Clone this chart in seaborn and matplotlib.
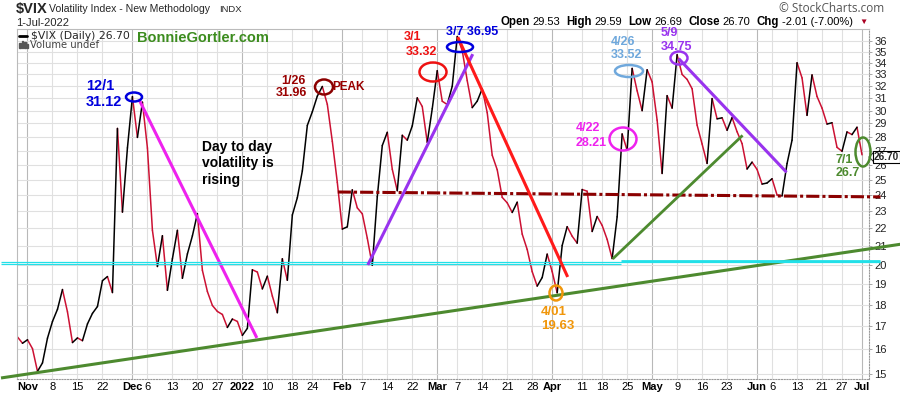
import numpy as np
import pandas as pd
import matplotlib
matplotlib.use("Agg")
import matplotlib.pyplot as plt
import seaborn as sns
from matplotlib.patches import Ellipse, Rectangle
from matplotlib.lines import Line2D
from matplotlib.transforms import Affine2D
from matplotlib.ticker import FixedLocator, FixedFormatter, NullLocator

# ---------------- data ----------------
holidays = ["2021-11-25", "2021-12-24", "2022-01-17", "2022-02-21",
            "2022-04-15", "2022-05-30", "2022-06-20"]
dates = pd.bdate_range("2021-10-28", "2022-07-01", freq="C", holidays=holidays)

vix_oct = [16.53, 16.26]
vix_nov = [16.41, 16.03, 15.10, 15.44, 16.48, 17.22, 17.78, 18.73, 17.66, 16.29,
           16.49, 16.37, 17.11, 17.59, 17.91, 19.17, 19.38, 18.58, 28.62, 22.96, 27.19]
vix_dec = [31.12, 27.95, 30.67, 27.18, 21.89, 19.90, 21.58, 18.69, 20.31, 21.89,
           19.29, 20.57, 21.57, 22.87, 19.70, 18.63, 17.96, 17.68, 17.54, 16.95, 17.33, 17.22]
vix_jan = [16.60, 16.91, 19.73, 19.61, 18.76, 19.40, 18.41, 17.62, 20.31, 19.19,
           22.79, 23.85, 25.59, 28.85, 29.90, 31.16, 31.96, 30.49, 27.66, 24.83]
vix_feb = [21.96, 22.09, 24.35, 23.22, 22.86, 21.44, 19.96, 23.91, 27.36, 28.33,
           25.70, 24.29, 28.11, 27.75, 28.81, 31.02, 30.32, 27.59, 30.15]
vix_mar = [33.32, 30.74, 30.48, 31.98, 36.45, 35.13, 32.45, 30.23, 30.75, 31.77,
           29.83, 26.67, 25.67, 23.87, 23.53, 22.94, 23.57, 21.67, 20.81, 19.63,
           18.90, 19.33, 20.56]
vix_apr = [19.63, 18.57, 21.03, 22.10, 21.55, 21.16, 24.37, 24.26, 21.82, 22.70,
           22.17, 21.37, 20.32, 22.68, 28.21, 27.02, 33.52, 31.60, 29.99, 33.40]
vix_may = [32.34, 29.25, 25.42, 31.20, 30.19, 34.75, 32.99, 32.56, 31.77, 28.87,
           27.47, 26.10, 30.96, 29.35, 29.43, 28.48, 29.45, 28.37, 27.50, 25.72, 26.19]
vix_jun = [25.69, 24.72, 24.79, 25.07, 24.02, 23.96, 26.09, 27.75, 34.02, 32.69,
           29.62, 32.95, 31.13, 30.19, 28.95, 29.05, 27.23, 26.95, 28.36, 28.16, 28.71]
vix_jul = [26.70]
vix_close = vix_oct + vix_nov + vix_dec + vix_jan + vix_feb + vix_mar + vix_apr + vix_may + vix_jun + vix_jul

tick_dates = ["2021-11-01", "2021-11-08", "2021-11-15", "2021-11-22", "2021-12-01",
              "2021-12-06", "2021-12-13", "2021-12-20", "2021-12-27", "2022-01-03",
              "2022-01-10", "2022-01-18", "2022-01-24", "2022-02-01", "2022-02-07",
              "2022-02-14", "2022-02-22", "2022-03-01", "2022-03-07", "2022-03-14",
              "2022-03-21", "2022-03-28", "2022-04-01", "2022-04-11", "2022-04-18",
              "2022-04-25", "2022-05-02", "2022-05-09", "2022-05-16", "2022-05-23",
              "2022-06-01", "2022-06-06", "2022-06-13", "2022-06-21", "2022-06-27",
              "2022-07-01"]
tick_labels = ["Nov", "8", "15", "22", "Dec", "6", "13", "20", "27", "2022", "10", "18",
               "24", "Feb", "7", "14", "22", "Mar", "7", "14", "21", "28", "Apr", "11",
               "18", "25", "May", "9", "16", "23", "Jun", "6", "13", "21", "27", "Jul"]
month_labels = {"Nov", "Dec", "2022", "Feb", "Mar", "Apr", "May", "Jun", "Jul"}
y_ticks = list(range(15, 37))

# ---------------- figure ----------------
W, H = 900, 396
sns.set_theme(style="white")
plt.rcParams["font.family"] = ["Liberation Sans", "DejaVu Sans"]

fig = plt.figure(figsize=(9, 3.96), dpi=100)
fig.patch.set_facecolor("white")
ax = fig.add_axes([17 / W, 1 - 379 / H, (869 - 17) / W, (379 - 29) / H])
ax.set_facecolor("white")
PX = Affine2D().scale(1, -1).translate(0, H)   # pixel coords, origin top-left

x_idx = np.arange(len(dates))
rows = []
for i in range(1, len(vix_close)):
    d = "up" if vix_close[i] >= vix_close[i - 1] else "down"
    rows.append((i, x_idx[i - 1], vix_close[i - 1], d))
    rows.append((i, x_idx[i], vix_close[i], d))
seg = pd.DataFrame(rows, columns=["seg", "x", "close", "dir"])
sns.lineplot(data=seg, x="x", y="close", hue="dir", units="seg", estimator=None,
             palette={"up": "black", "down": "#cc1133"}, legend=False, lw=1.1,
             ax=ax, zorder=2)
ax.set_yscale("log")
ax.set_ylim(14.8, 37.18)
ax.set_xlim(-0.1, 170.4)
ax.set_xlabel("")
ax.set_ylabel("")

# grid
tick_idx = [dates.get_loc(pd.Timestamp(d)) for d in tick_dates]
for t, lab in zip(tick_idx, tick_labels):
    ax.axvline(t, color="#b8b8b8" if lab in month_labels else "#e0e0e0", lw=0.8, zorder=0)
for v in y_ticks:
    ax.axhline(v, color="#e0e0e0", lw=0.8, zorder=0)

ax.set_xticks(tick_idx)
ax.set_xticklabels(tick_labels)
for lab in ax.get_xticklabels():
    if lab.get_text() in month_labels:
        lab.set_fontweight("bold")
ax.tick_params(axis="x", length=0, pad=2.5, labelsize=8, labelcolor="black")
ax.yaxis.tick_right()
ax.yaxis.set_major_locator(FixedLocator(y_ticks))
ax.yaxis.set_major_formatter(FixedFormatter([str(v) for v in y_ticks]))
ax.yaxis.set_minor_locator(NullLocator())
ax.tick_params(axis="y", which="major", right=True, left=False, length=2.5, width=0.6,
               color="#999999", pad=1.5, labelsize=8, labelcolor="#222222")
for s in ["top", "left"]:
    ax.spines[s].set_color("#bbbbbb")
    ax.spines[s].set_linewidth(0.8)
for s in ["right", "bottom"]:
    ax.spines[s].set_color("#999999")
    ax.spines[s].set_linewidth(0.8)
    ax.spines[s].set_linestyle((0, (1, 1.5)))

# ---------------- trend lines (date index, value) ----------------
trend_lines = [
    (24.3, 30.9, 47.9, 16.49, "#ee22ee", 2.2, "-", True),
    (-3.3, 14.84, 176.7, 21.1, "#4d8a2f", 2.2, "-", False),
    (-3.3, 20.16, 172.7, 20.16, "#22e0e8", 0.9, "-", False),
    (-3.3, 20.03, 120.7, 20.03, "#22e0e8", 0.9, "-", False),
    (120.7, 20.21, 172.7, 20.21, "#22e0e8", 2.0, "-", False),
    (64.1, 24.21, 172.7, 23.9, "#8b0000", 2.2, (0, (4.3, 1, 1, 1)), False),
    (70.1, 19.98, 91.1, 34.8, "#9933ee", 2.2, "-", True),
    (88.1, 36.4, 110.1, 19.36, "#ff1a1a", 2.2, "-", True),
    (119.1, 20.3, 145.1, 28.1, "#4d8a2f", 2.0, "-", True),
    (132.3, 34.4, 153.9, 25.5, "#9933ee", 2.2, "-", True),
]
for x0, v0, x1, v1, c, lw, ls, clip in trend_lines:
    ax.plot([x0, x1], [v0, v1], color=c, lw=lw, ls=ls, zorder=3, clip_on=clip,
            solid_capstyle="butt")

# ---------------- ellipses (pixel) ----------------
ellipses = [
    (134, 97, 16, 9, "#0000dd"),
    (324, 87, 18, 15, "#8b0000"),
    (433, 72, 27, 19, "#ee1111"),
    (460, 47, 26, 10, "#0000dd"),
    (556, 293, 13, 15, "#f0960a"),
    (623, 139, 27, 23, "#ee22ee"),
    (629, 71, 28, 12, "#6fa8dc"),
    (679, 58, 17, 13, "#9933ee"),
    (863, 152, 15, 29, "#4d8a2f"),
]
for cx, cy, w, h, c in ellipses:
    fig.add_artist(Ellipse((cx, cy), w, h, transform=PX, fill=False, ec=c, lw=1.8, zorder=5))

# ---------------- annotation texts (pixel) ----------------
notes = [
    (86, 86, "12/1", "#0000dd", 10.5, "bold", "left"),
    (86, 102, "31.12", "#0000dd", 10.5, "bold", "left"),
    (202, 147.5, "Day to day", "black", 10, "bold", "left"),
    (202, 163.5, "volatility is", "black", 10, "bold", "left"),
    (202, 180, "rising", "black", 10, "bold", "left"),
    (306, 81, "1/26", "#990000", 9, "bold", "right"),
    (307, 92.5, "31.96", "#990000", 9, "bold", "right"),
    (332, 87, "PEAK", "#990000", 8.5, "bold", "left"),
    (413, 37, "3/1", "#ee1111", 9, "bold", "center"),
    (421, 52, "33.32", "#ee1111", 9, "bold", "center"),
    (446, 32, "3/7 36.95", "#0000dd", 9, "bold", "left"),
    (576, 128, "4/22", "#ee22ee", 9, "bold", "left"),
    (576, 143, "28.21", "#ee22ee", 9, "bold", "left"),
    (541, 312, "4/01", "#f0960a", 9.5, "bold", "left"),
    (541, 326, "19.63", "#f0960a", 9.5, "bold", "left"),
    (611, 42, "4/26", "#6fa8dc", 9, "bold", "left"),
    (611, 55, "33.52", "#6fa8dc", 9, "bold", "left"),
    (661, 33, "5/9", "#9933ee", 9, "bold", "left"),
    (661, 47, "34.75", "#9933ee", 9, "bold", "left"),
    (836, 160, "7/1", "#4d8a2f", 9, "bold", "left"),
    (836, 173, "26.7", "#4d8a2f", 9, "bold", "left"),
]
for x, y, s, c, fs, fw, ha in notes:
    fig.text(x, y, s, transform=PX, color=c, fontsize=fs, fontweight=fw, ha=ha,
             va="center", zorder=6)

# ---------------- header ----------------
fig.text(16, 9, "$VIX", transform=PX, fontsize=10.5, fontweight="bold", va="center")
fig.text(49, 9.5, "Volatility Index - New Methodology", transform=PX, fontsize=7.6, va="center")
fig.text(219, 10, "INDX", transform=PX, fontsize=6.8, va="center")
fig.text(16, 23, "1-Jul-2022", transform=PX, fontsize=8, va="center")
fig.text(884, 9, "\u00a9 StockCharts.com", transform=PX, fontsize=8.5, color="#555555",
         ha="right", va="center", family=["Open Sans", "DejaVu Sans"])

fig.canvas.draw()
rend = fig.canvas.get_renderer()
pieces = [("Open", "bold", "black", 3), ("29.53", "normal", "black", 6),
          ("High", "bold", "black", 3), ("29.59", "normal", "black", 6),
          ("Low", "bold", "black", 3), ("26.69", "normal", "black", 6),
          ("Close", "bold", "black", 3), ("26.70", "normal", "black", 6),
          ("Chg", "bold", "black", 3), ("-2.01 (-7.00%)", "normal", "black", 4),
          ("\u25bc", "normal", "#aa0022", 0)]
xr = 868
for s, fw, c, gap in reversed(pieces):
    xr -= gap
    t = fig.text(xr, 22, s, transform=PX, fontsize=8.3 if fw == "bold" else 8,
                 fontweight=fw, color=c, ha="right", va="center",
                 family=["Liberation Sans", "DejaVu Sans"])
    xr -= t.get_window_extent(renderer=rend).width
    if s == "\u25bc":
        t.set_fontsize(6)

# legend inside plot
fig.add_artist(Line2D([19, 27], [36, 36], transform=PX, color="black", lw=2))
fig.text(31, 36, "$VIX (Daily) 26.70", transform=PX, fontsize=7.8, va="center",
         family=["DejaVu Sans"])
for bx, bh in [(19, 5), (21.5, 7), (24, 6), (26.5, 4)]:
    fig.add_artist(Rectangle((bx, 48 - bh), 1.6, bh, transform=PX, color="#555555"))
fig.text(30, 45, "Volume undef", transform=PX, fontsize=7.2, va="center",
         color="#444444", family=["DejaVu Sans"])
fig.text(137, 37.5, "BonnieGortler.com", transform=PX, fontsize=10.5, fontweight="bold",
         color="#3c8c1e", va="center")

# last price box
fig.add_artist(Line2D([874, 869, 874], [152, 157, 162], transform=PX, color="#333333", lw=0.8))
fig.text(874, 157, "26.70", transform=PX, fontsize=7.2, fontweight="bold", va="center",
         ha="left", zorder=7,
         bbox=dict(boxstyle="square,pad=0.1", fc="white", ec="black", lw=0.8))

fig.savefig("out.png", dpi=100, facecolor="white")
